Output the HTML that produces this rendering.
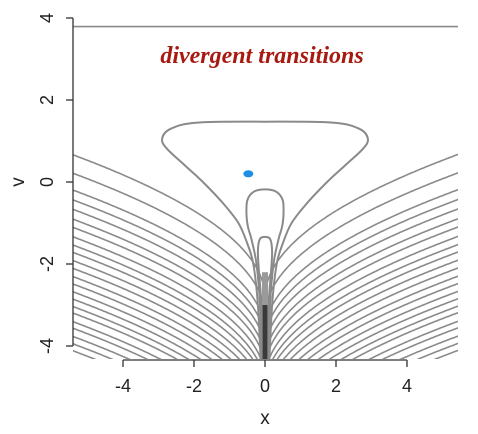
<!DOCTYPE html>
<html><head><meta charset="utf-8"><style>
html,body{margin:0;padding:0;background:#fff;overflow:hidden;width:478px;height:434px;}
svg{display:block;}
text{font-family:"Liberation Sans",sans-serif;}
</style></head><body>
<svg id="chart" width="478" height="434" viewBox="0 0 478 434" xmlns="http://www.w3.org/2000/svg">
<defs><clipPath id="plotclip"><rect x="73" y="18" width="385" height="341"/></clipPath></defs>
<g id="contours" clip-path="url(#plotclip)"></g>
<g id="axes"></g>
<text x="262" y="63" text-anchor="middle" style="font-family:'Liberation Serif',serif;font-style:italic;font-weight:bold;font-size:24px;fill:#a81a10;">divergent transitions</text>
</svg>
<script>
// data
const edgeV = [0.66,0.21,-0.2,-0.44,-0.67,-0.91,-1.11,-1.34,-1.54,-1.72,-1.92,-2.11,-2.31,-2.49,-2.68,-2.86,-3.04,-3.2,-3.41,-3.57,-3.77,-3.95,-4.12];
const topLineV = 3.79;
const bigLoopV = [1.47,1.45,1.3,1.05,0.8,0.4,0,-0.5,-1,-1.5,-2,-3,-4.4];
const bigLoopW = [0,1.9,2.65,2.9,2.75,2.25,1.75,1.2,0.75,0.5,0.33,0.2,0.12];
const midLoopV = [-0.18,-0.24,-0.45,-0.8,-1.1,-1.4,-2,-3,-4.4];
const midLoopW = [0,0.32,0.5,0.52,0.48,0.38,0.24,0.14,0.08];
const smallLoopV = [-1.34,-1.4,-1.7,-2.2,-3,-4.4];
const smallLoopW = [0,0.15,0.2,0.17,0.1,0.05];
const divX = [-0.47];
const divV = [0.2];
const xTicks = [-4,-2,0,2,4];
const yTicks = [4,2,0,-2,-4];

const sx = x => 265 + x*35.5;
const sy = v => 182 - v*41;
const NS = 'http://www.w3.org/2000/svg';
const cg = document.getElementById('contours');
const ag = document.getElementById('axes');
function mk(tag, attrs, parent){const e=document.createElementNS(NS,tag);for(const k in attrs)e.setAttribute(k,attrs[k]);parent.appendChild(e);return e;}
const stroke = {fill:'none',stroke:'#8a8a8a','stroke-width':'1.6'};

// fan contours
edgeV.forEach((ve,i)=>{
  let pts=[];
  for(let k=0;k<=120;k++){const x=-5.5+5.5*k/120;const v=ve+1.5*(Math.sqrt(Math.abs(x))-Math.sqrt(5.4));pts.push([x,v]);}
  for(let k=1;k<=120;k++){const x=5.5*k/120;const v=ve+1.5*(Math.sqrt(x)-Math.sqrt(5.4));pts.push([x,v]);}
  const p=mk('path',Object.assign({d:'M'+pts.map(q=>sx(q[0]).toFixed(1)+','+sy(q[1]).toFixed(1)).join('L')},stroke),cg);
  
  
});

function catmull(pts){
  let d='M'+pts[0][0]+','+pts[0][1];
  for(let i=0;i<pts.length-1;i++){
    const p0=pts[Math.max(0,i-1)],p1=pts[i],p2=pts[i+1],p3=pts[Math.min(pts.length-1,i+2)];
    d+='C'+(p1[0]+(p2[0]-p0[0])/6).toFixed(1)+','+(p1[1]+(p2[1]-p0[1])/6).toFixed(1)+' '+(p2[0]-(p3[0]-p1[0])/6).toFixed(1)+','+(p2[1]-(p3[1]-p1[1])/6).toFixed(1)+' '+p2[0].toFixed(1)+','+p2[1].toFixed(1);
  }
  return d;
}
function loop(vs,ws,name){
  let pts=[];
  for(let i=vs.length-1;i>=1;i--)pts.push([sx(-ws[i]),sy(vs[i])]);
  pts.push([sx(0),sy(vs[0])]);
  for(let i=1;i<vs.length;i++)pts.push([sx(ws[i]),sy(vs[i])]);
  const p=mk('path',Object.assign({d:catmull(pts)},stroke,{'stroke-width':'2'}),cg);
  
  
}
loop(bigLoopV,bigLoopW,'outer-loop-contour');
loop(midLoopV,midLoopW,'inner-loop-contour');
loop(smallLoopV,smallLoopW,'small-loop-contour');

// dense center band
const band1=mk('rect',{x:sx(0)-3,y:sy(-2.2),width:6,height:sy(-4.4)-sy(-2.2),fill:'#9a9a9a'},cg);


const band2=mk('rect',{x:sx(0)-2.5,y:sy(-3),width:5,height:sy(-4.4)-sy(-3),fill:'#3a3a3a'},cg);



// top line
const tl=mk('line',Object.assign({x1:73,x2:458,y1:sy(topLineV),y2:sy(topLineV)},stroke),cg);



// divergence points
divX.forEach((x,i)=>{
  const e=mk('ellipse',{cx:sx(x),cy:sy(divV[i]),rx:5,ry:3.6,fill:'#1e8fe3'},cg);
  
  
});

// axes
const ya=mk('line',{x1:73,x2:73,y1:sy(yTicks[0]),y2:sy(yTicks[yTicks.length-1]),stroke:'#333','stroke-width':'1.3'},ag);


yTicks.forEach(t=>{
  const l=mk('line',{x1:66,x2:73,y1:sy(t),y2:sy(t),stroke:'#333','stroke-width':'1.3'},ag);
  
  
  const tx=mk('text',{x:0,y:0,transform:'translate(53,'+sy(t)+') rotate(-90)','text-anchor':'middle','font-size':'18',fill:'#222'},ag);
  tx.textContent=t;
  
  
});
const xa=mk('line',{x1:sx(xTicks[0]),x2:sx(xTicks[xTicks.length-1]),y1:360,y2:360,stroke:'#333','stroke-width':'1.3'},ag);


xTicks.forEach(t=>{
  const l=mk('line',{x1:sx(t),x2:sx(t),y1:360,y2:367,stroke:'#333','stroke-width':'1.3'},ag);
  
  
  const tx=mk('text',{x:sx(t),y:392,'text-anchor':'middle','font-size':'18',fill:'#222'},ag);
  tx.textContent=t;
  
  
});
const xt=mk('text',{x:265,y:424,'text-anchor':'middle','font-size':'19',fill:'#222'},ag);
xt.textContent='x';


const yt=mk('text',{x:0,y:0,transform:'translate(24,182) rotate(-90)','text-anchor':'middle','font-size':'19',fill:'#222'},ag);
yt.textContent='v';


</script>
</body></html>
